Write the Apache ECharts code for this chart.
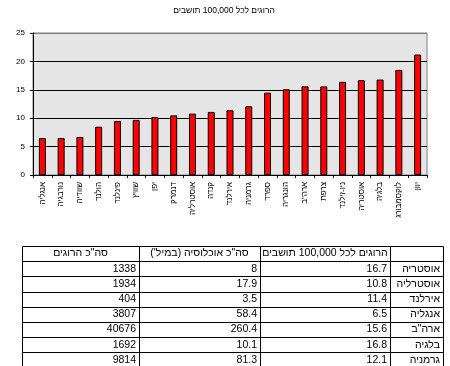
<!DOCTYPE html>
<html><head><meta charset="utf-8">
<script src="https://cdn.jsdelivr.net/npm/echarts@6/dist/echarts.min.js"></script>
<style>html,body{margin:0;padding:0;background:#fff}#c{width:450px;height:366px}</style>
</head><body><div id="c" dir="rtl"></div>
<script>
const chartTitle = 'הרוגים לכל 100,000 תושבים';
const countries = ['אנגליה','נורבגיה','שוודיה','הולנד','פינלנד','שוויץ','יפן','דנמרק','אוסטרליה','קנדה','אירלנד','גרמניה','ספרד','הונגריה','ארה"ב','צרפת','ניו-זילנד','אוסטריה','בלגיה','לוקסמבורג','יוון'];
const rates = [6.5,6.5,6.7,8.5,9.5,9.7,10.2,10.5,10.8,11.1,11.4,12.1,14.5,15.1,15.6,15.6,16.4,16.7,16.8,18.5,21.2];
const yMin = 0, yMax = 25, yStep = 5;

// table, columns listed right-to-left
const tableHeaders = ['', 'הרוגים לכל 100,000 תושבים', 'סה"כ אוכלוסיה (במיל\')', 'סה"כ הרוגים'];
const tableCountries = ['אוסטריה','אוסטרליה','אירלנד','אנגליה','ארה"ב','בלגיה','גרמניה'];
const tableRates = ['16.7','10.8','11.4','6.5','15.6','16.8','12.1'];
const tablePopulation = ['8','17.9','3.5','58.4','260.4','10.1','81.3'];
const tableDeaths = ['1338','1934','404','3807','40676','1692','9814'];

const FONT = '"Liberation Sans", Arial, sans-serif';
// table layout
const colEdges = [443, 390, 260, 139, 22]; // right to left
const rowTop = 246, rowH = 15.2, nRows = 8;

const graphics = [];
const lineStyle = {stroke:'#000', lineWidth:1};
for (let i = 0; i < colEdges.length; i++) {
  const x = Math.round(colEdges[i]) + 0.5;
  graphics.push({type:'line', silent:true, shape:{x1:x, y1:rowTop+0.5, x2:x, y2:rowTop+nRows*rowH}, style:lineStyle});
}
for (let r = 0; r <= nRows; r++) {
  const y = Math.round(rowTop + r*rowH) + 0.5;
  graphics.push({type:'line', silent:true, shape:{x1:colEdges[colEdges.length-1]+0.5, y1:y, x2:colEdges[0]+0.5, y2:y}, style:lineStyle});
}
const columns = [tableCountries, tableRates, tablePopulation, tableDeaths];
function cellText(txt, col, row, align) {
  const right = colEdges[col], left = colEdges[col+1];
  const x = align === 'center' ? (left+right)/2 : right - 3;
  graphics.push({type:'text', silent:true, x:x, y:rowTop + row*rowH + 7.5,
    style:{text:txt, fill:'#000', font:'10.5px ' + FONT, textAlign:align, textVerticalAlign:'middle'}});
}
tableHeaders.forEach((h, c) => { if (h) cellText(h, c, 0, 'center'); });
columns.forEach((arr, c) => arr.forEach((v, r) => cellText(v, c, r+1, 'right')));

const chart = echarts.init(document.getElementById('c'), null, {renderer:'canvas'});
chart.setOption({
  animation:false,
  backgroundColor:'#fff',
  title:{text:chartTitle, left:219, top:1, textAlign:'center',
    textStyle:{fontSize:8.5, fontWeight:'normal', color:'#000', fontFamily:FONT}},
  grid:{left:33, right:23, top:33, bottom:191, show:true, backgroundColor:'#E5E5E5', borderColor:'#808080', borderWidth:1, containLabel:false},
  xAxis:{type:'category', data:countries, boundaryGap:true,
    axisLine:{show:true, lineStyle:{color:'#000', width:1}},
    axisTick:{show:true, inside:false, length:3, alignWithLabel:false, lineStyle:{color:'#000'}},
    axisLabel:{interval:0, rotate:90, margin:7, fontSize:8, color:'#000', fontFamily:FONT},
    splitLine:{show:false}},
  yAxis:{type:'value', min:yMin, max:yMax, interval:yStep,
    axisLine:{show:true, lineStyle:{color:'#000', width:1}},
    axisTick:{show:true, inside:false, length:3, lineStyle:{color:'#000'}},
    axisLabel:{margin:8, fontSize:8, color:'#000', fontFamily:FONT},
    splitLine:{show:true, lineStyle:{color:['#000','#000','#000','#000','#000','#808080'], width:1}}},
  series:[{type:'bar', data:rates, barWidth:7,
    itemStyle:{color:'#FF0000', borderColor:'#000', borderWidth:1}}],
  graphic:graphics
});
</script></body></html>
